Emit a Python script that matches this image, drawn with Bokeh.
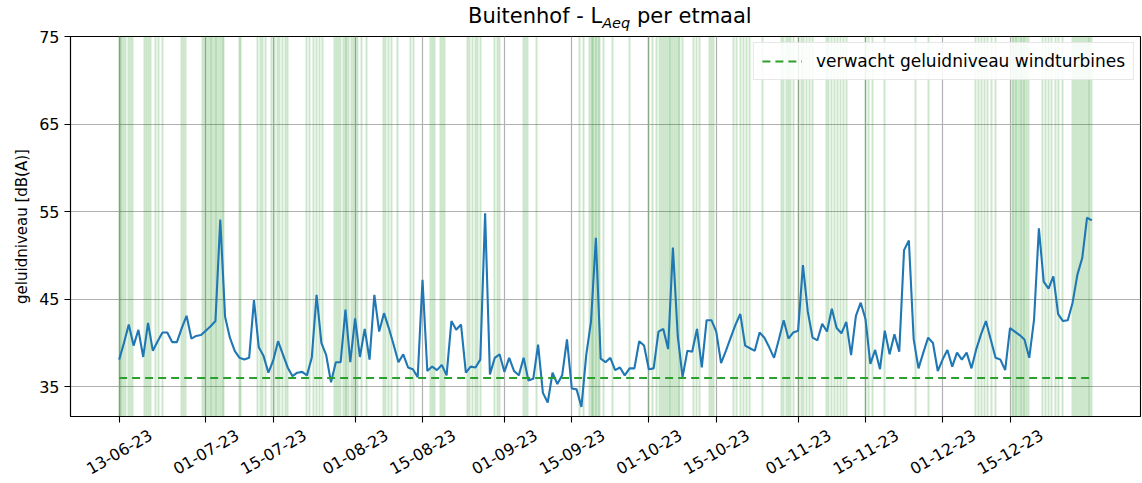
import pandas as pd
import math
from bokeh.plotting import figure
from bokeh.layouts import column
from bokeh.models import Range1d, FixedTicker, CustomJSTickFormatter, Div
from bokeh.embed import file_html
from bokeh.resources import INLINE

# ---------------- data ----------------
start_date = "2023-06-13"

# daily L_Aeq values (dB(A)), 13-06-2023 .. 01-01-2024
levels = [
    38.1, 40.0, 42.1, 39.7, 41.5, 38.4, 42.3, 39.1, 40.2, 41.2,
    41.2, 40.1, 40.1, 41.7, 43.1, 40.5, 40.8, 40.9, 41.4, 41.9,
    42.5, 54.1, 43.0, 40.6, 39.1, 38.3, 38.1, 38.3, 44.9, 39.5,
    38.5, 36.6, 38.0, 40.2, 38.7, 37.2, 36.2, 36.6, 36.7, 36.3,
    38.3, 45.5, 40.0, 38.6, 35.5, 37.8, 37.8, 43.8, 37.8, 42.8,
    38.4, 41.6, 38.1, 45.5, 41.3, 43.4, 41.7, 39.8, 37.8, 38.7,
    37.2, 37.0, 36.1, 47.2, 36.8, 37.3, 36.9, 37.5, 36.3, 42.5,
    41.5, 42.1, 36.6, 37.3, 37.2, 38.1, 54.8, 36.4, 38.3, 38.7,
    36.7, 38.3, 36.8, 36.3, 38.3, 35.7, 35.9, 39.8, 34.3, 33.2,
    36.6, 35.3, 36.3, 40.4, 34.8, 34.7, 32.7, 38.6, 42.5, 52.0,
    38.2, 37.8, 38.3, 36.9, 37.2, 36.3, 37.1, 37.1, 40.2, 39.7,
    37.0, 37.1, 41.3, 41.6, 39.3, 50.9, 40.8, 36.1, 39.1, 39.0,
    41.6, 37.2, 42.6, 42.6, 41.3, 37.7, 39.1, 40.6, 42.1, 43.3,
    39.7, 39.4, 39.1, 41.2, 40.6, 39.5, 38.3, 40.4, 42.6, 40.5,
    41.2, 41.4, 48.9, 43.6, 40.6, 40.3, 42.2, 41.3, 43.9, 41.7,
    41.1, 42.4, 38.6, 43.1, 44.6, 42.7, 37.6, 39.2, 37.0, 41.4,
    38.7, 41.0, 39.0, 50.6, 51.7, 40.4, 37.1, 38.9, 40.6, 40.0,
    36.8, 38.1, 39.2, 37.3, 38.9, 38.1, 38.9, 37.1, 39.3, 41.0,
    42.5, 40.4, 38.3, 38.1, 36.9, 41.7, 41.3, 40.9, 40.4, 38.3,
    42.7, 53.1, 47.0, 46.2, 47.6, 43.3, 42.5, 42.6, 44.6, 47.8,
    49.7, 54.3, 54.0,
]

# expected level of the wind turbines, dB(A)
expected_level = 36.0

# moments with turbine-relevant wind (days after start_date)
wind_offsets = [
    0.0, 0.25, 0.5, 1.0, 1.4, 2.0, 2.3, 2.8,
    5.2, 5.6, 6.0, 6.5, 7.5, 8.1, 9.1,
    12.9, 13.3, 13.7,
    17.4, 17.8, 18.2, 18.5, 18.9, 19.2, 19.6, 20.0, 20.3, 20.7, 21.0, 21.4, 21.7,
    24.9, 25.2,
    28.8, 29.3, 29.8, 30.3,
    31.6, 32.2, 32.8, 33.4, 34.0, 34.6, 35.0,
    39.0, 39.6, 40.3, 41.0, 41.6, 42.2,
    44.8, 45.2, 45.6, 46.0, 46.5, 47.0, 47.3, 47.7, 48.2, 48.6, 49.0, 49.4,
    50.3, 51.3,
    54.8, 55.4, 56.0, 56.5, 57.8,
    60.6, 61.2,
    64.6, 65.0, 65.4, 66.7, 67.1, 67.5,
    72.3, 72.8, 73.4, 74.0, 74.5, 75.0,
    78.0, 78.5, 78.9,
    84.0, 84.4, 84.7, 86.7,
    95.7, 96.5, 97.7, 98.0, 98.3, 98.6, 98.9, 99.2, 99.5, 99.8, 100.6,
    102.5, 106.0,
    110.0, 110.8, 111.5, 112.2, 112.6, 113.0, 113.4, 113.8, 114.2, 114.6,
    115.0, 115.4, 115.8, 116.2, 116.4, 117.0,
    119.3, 119.9, 120.5,
    122.6, 123.0, 123.4,
    127.5, 128.2, 129.0, 129.7, 130.3, 130.8,
    133.7,
    137.5, 138.0, 138.5, 139.0, 139.5, 140.0,
    141.0, 141.6, 142.2, 142.8, 143.4, 144.0,
    146.8, 147.4, 148.0, 148.6, 149.2, 149.8, 150.4, 151.0,
    155.0, 155.7, 156.5, 159.0,
    165.4, 168.0,
    177.8, 178.4, 179.0, 179.7, 180.4, 181.2, 182.0,
    185.5, 185.8, 186.1, 186.4, 186.8, 187.1, 187.4, 187.8, 188.1, 188.5, 188.8,
    191.7, 192.3, 193.0, 193.7, 194.4, 195.1, 195.9,
    198.0, 198.4, 198.8, 199.2, 199.6, 200.0, 200.4, 200.8, 201.2, 201.6, 202.0,
]

tick_dates = [
    "2023-06-13", "2023-07-01", "2023-07-15", "2023-08-01", "2023-08-15",
    "2023-09-01", "2023-09-15", "2023-10-01", "2023-10-15", "2023-11-01",
    "2023-11-15", "2023-12-01", "2023-12-15",
]
tick_labels = [
    "13-06-23", "01-07-23", "15-07-23", "01-08-23", "15-08-23",
    "01-09-23", "15-09-23", "01-10-23", "15-10-23", "01-11-23",
    "15-11-23", "01-12-23", "15-12-23",
]
y_ticks = [35, 45, 55, 65, 75]

legend_text = "verwacht geluidniveau windturbines"
y_label = "geluidniveau [dB(A)]"

# ---------------- derived ----------------
DAY_MS = 86400000.0
start_ms = pd.Timestamp(start_date).value / 1e6
dates_ms = [start_ms + i * DAY_MS for i in range(len(levels))]
wind_ms = [start_ms + o * DAY_MS for o in wind_offsets]
tick_ms = [pd.Timestamp(d).value / 1e6 for d in tick_dates]

span_days = (dates_ms[-1] - dates_ms[0]) / DAY_MS
pad = 0.05 * span_days * DAY_MS
x_start, x_end = dates_ms[0] - pad, dates_ms[-1] + pad

FONT = "DejaVu Sans"
W, H_TITLE = 1142, 26
BL, BR, BT, BB = 70, 2, 10, 67
frame_w = W - BL - BR

# rotated labels are anchored at their right end; shift anchors so the
# label centres sit under the real ticks
label_shift_px = 31.5
shift_ms = label_shift_px / frame_w * (x_end - x_start)
label_pos = [t + shift_ms for t in tick_ms]

p = figure(
    width=W, height=483 - H_TITLE, title=None,
    x_axis_type="datetime",
    output_backend="svg", toolbar_location=None,
    x_range=Range1d(x_start, x_end),
    y_range=Range1d(31.6, 75),
    min_border_left=BL, min_border_right=BR, min_border_top=BT, min_border_bottom=BB,
)
p.background_fill_color = "white"
p.border_fill_color = "white"
p.border_fill_alpha = 0.0
p.outline_line_color = "black"
p.outline_line_width = 1.1

# wind moments
p.vspan(x=wind_ms, line_color="green", line_alpha=0.2, line_width=2.0)

# daily level
p.line(dates_ms, levels, line_color="#1f77b4", line_width=2.1)

# expected turbine level
p.line([dates_ms[0], dates_ms[-1]], [expected_level, expected_level],
       line_color="#2ca02c", line_width=2.1, line_dash="8 5",
       legend_label=legend_text)

# x axis: tick marks at real dates (as minor ticks), labels at shifted anchors
p.xaxis.ticker = FixedTicker(ticks=label_pos, minor_ticks=tick_ms)
p.xaxis.formatter = CustomJSTickFormatter(
    args=dict(pos=label_pos, labels=tick_labels),
    code="""
const i = pos.findIndex(t => Math.abs(t - tick) < 60000);
return i >= 0 ? labels[i] : "";
""")
p.xaxis.major_tick_line_color = None
p.xaxis.major_tick_out = 0
p.xaxis.major_tick_in = 0
p.xaxis.minor_tick_line_color = "black"
p.xaxis.minor_tick_line_width = 1.1
p.xaxis.minor_tick_out = 6
p.xaxis.minor_tick_in = 0
p.xaxis.major_label_orientation = math.pi / 6
p.xaxis.major_label_standoff = 11
p.xgrid.ticker = FixedTicker(ticks=tick_ms)

p.yaxis.ticker = FixedTicker(ticks=y_ticks)
p.yaxis.axis_label = y_label
p.yaxis.major_tick_line_color = "black"
p.yaxis.major_tick_line_width = 1.1
p.yaxis.major_tick_out = 6
p.yaxis.major_tick_in = 0
p.yaxis.minor_tick_line_color = None

for ax in (p.xaxis, p.yaxis):
    ax.axis_line_color = "black"
    ax.axis_line_width = 1.1
    ax.major_label_text_font = FONT
    ax.major_label_text_font_size = "16px"
    ax.major_label_text_color = "black"
    ax.axis_label_text_font = FONT
    ax.axis_label_text_font_size = "15px"
    ax.axis_label_text_font_style = "normal"
    ax.axis_label_text_color = "black"

p.grid.grid_line_color = "#b0b0b0"
p.grid.grid_line_width = 1.2
p.grid.grid_line_alpha = 1.0

# legend
lg = p.legend[0]
lg.location = "top_right"
lg.label_text_font = FONT
lg.label_text_font_size = "17px"
lg.label_text_color = "black"
lg.border_line_color = "#d0d0d0"
lg.background_fill_alpha = 0.85
lg.glyph_width = 40
lg.label_standoff = 14
lg.padding = 8
lg.margin = 6

# title (L with italic subscript Aeq)
title = Div(
    text=('<div style="font-family:\'DejaVu Sans\'; font-size:21px; color:black; '
          'white-space:nowrap; margin-left:468px; padding-top:5px; line-height:23px; '
          'overflow:visible;">'
          'Buitenhof - L<sub style="font-size:14.5px; font-style:italic; line-height:0;">Aeq</sub>'
          ' per etmaal</div>'),
    width=W, height=H_TITLE, margin=0,
    styles={"overflow": "visible", "z-index": "2"},
)

layout = column(title, p, spacing=0, margin=0)
open("out.html", "w").write(file_html(layout, INLINE))
